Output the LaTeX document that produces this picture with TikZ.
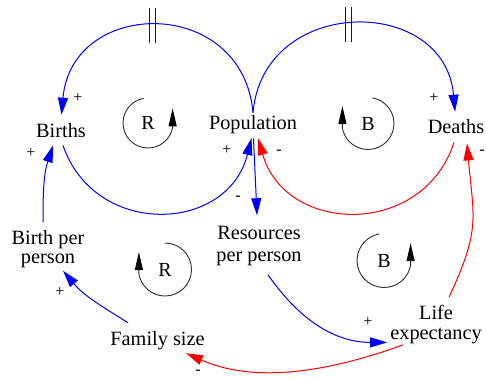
\documentclass[tikz,border=0pt]{standalone}
\usepackage{fontspec}
\setmainfont{Liberation Serif}
\usetikzlibrary{arrows.meta}
\definecolor{lkblue}{RGB}{0,0,255}
\definecolor{lkred}{RGB}{255,0,0}
\definecolor{loopgray}{RGB}{45,45,45}
\begin{document}
\begin{tikzpicture}[x=1pt, y=1pt,
  var/.style={inner sep=0pt, font=\fontsize{20.3}{20}\selectfont},
  multi/.style={var, align=center},
  sign/.style={inner sep=0pt, font=\fontsize{16}{16}\selectfont},
  looptag/.style={inner sep=0pt, font=\fontsize{20}{20}\selectfont},
  blink/.style={lkblue, line width=1pt, -{Triangle[length=17pt,width=10pt]}},
  rlink/.style={lkred, line width=1pt, -{Triangle[length=17pt,width=10pt]}},
  delaybar/.style={lkblue, line width=0.9pt},
  loopline/.style={loopgray, line width=0.9pt, -{Triangle[length=18pt,width=8pt,color=black]}}
]
\useasboundingbox (0,0) rectangle (486,378);

% variables
\node[var, anchor=base] (births) at (61,241) {Births};
\node[var, anchor=base] (population) at (253,248) {Population};
\node[var, anchor=base] (deaths) at (456,245) {Deaths};
\node[multi] (birthpp) at (48,128.75) {Birth per\\[-1pt]person};
\node[multi] (resources) at (259,131.75) {Resources\\[2pt]per person};
\node[var, anchor=base] (family) at (157.5,33) {Family size};
\node[multi] (life) at (436,53.5) {Life\\[-0.5pt]expectancy};

% loop markers
\node[looptag] (loopR1) at (148,255) {R};
\node[looptag] (loopB1) at (368,254.5) {B};
\node[looptag] (loopR2) at (165,108.5) {R};
\node[looptag] (loopB2) at (384,117.5) {B};
\draw[loopline] ([shift={(100:25)}]loopR1.center) arc[start angle=100, end angle=350, radius=25pt] -- ++(0,19);
\draw[loopline] ([shift={(80:26)}]loopB1.center) arc[start angle=80, end angle=-170, radius=26pt] -- ++(0,22);
\draw[loopline] ([shift={(90:26.5)}]loopR2.center) arc[start angle=90, end angle=-170, radius=26.5pt] -- ++(0,22);
\draw[loopline] ([shift={(100:27)}]loopB2.center) arc[start angle=100, end angle=350, radius=27pt] -- ++(0,22);

% delayed links from population
\draw[blink] ([shift={(0,3)}]population.north) to[out=95, in=85, looseness=1.57]
  coordinate[pos=0.518] (d1) ([shift={(0.5,8)}]births.north);
\draw[blink] ([shift={(0,3)}]population.north) to[out=85, in=95, looseness=1.49]
  coordinate[pos=0.481] (d2) ([shift={(-1,7)}]deaths.north);
\draw[delaybar] ([xshift=-3pt]d1) ++(0,-17.5) -- ++(0,35);
\draw[delaybar] ([xshift=3pt]d1) ++(0,-17.5) -- ++(0,35);
\draw[delaybar] ([xshift=-3pt]d2) ++(0,-17.5) -- ++(0,35);
\draw[delaybar] ([xshift=3pt]d2) ++(0,-17.5) -- ++(0,35);

% flows back into population
\draw[blink] ([shift={(2,-8)}]births.south) to[out=-71, in=-104, looseness=1.33]
  ([shift={(-1.5,-3.6)}]population.south);
\draw[rlink] ([shift={(-2,-9)}]deaths.south) to[out=-108, in=-74, looseness=1.31]
  ([shift={(5,-3.6)}]population.south);

% lower chain
\draw[blink] ([shift={(0.5,-4)}]population.south) -- ([shift={(-2,11)}]resources.north);
\draw[blink] ([shift={(9,-8.6)}]resources.south) to[out=-55, in=180]
  ([shift={(-3,1.4)}]life.south west);
\draw[rlink] ([shift={(13,8)}]life.north) to[out=65, in=-85, looseness=1.25]
  ([shift={(11,-10)}]deaths.south);
\draw[rlink] ([shift={(13,-1)}]life.south west) to[out=-160, in=-24, looseness=0.9]
  ([shift={(28.5,-3.6)}]family.south);
\draw[blink] ([shift={(-29.5,8)}]family.north) to[out=148, in=-50]
  ([shift={(15,-2.6)}]birthpp.south);
\draw[blink] ([shift={(-5,8)}]birthpp.north) to[out=90, in=-108]
  ([shift={(-8,-8)}]births.south);

% polarities
\node[sign] (s1) at (78,280) {+};
\node[sign] (s2) at (434,280) {+};
\node[sign] (s3) at (227,228) {+};
\node[sign] (s4) at (279,226) {-};
\node[sign] (s5) at (238,180) {-};
\node[sign] (s6) at (31,225) {+};
\node[sign] (s7) at (482,226) {-};
\node[sign] (s8) at (60,86) {+};
\node[sign] (s9) at (368,56) {+};
\node[sign] (s10) at (198,6) {-};
\end{tikzpicture}
\end{document}
